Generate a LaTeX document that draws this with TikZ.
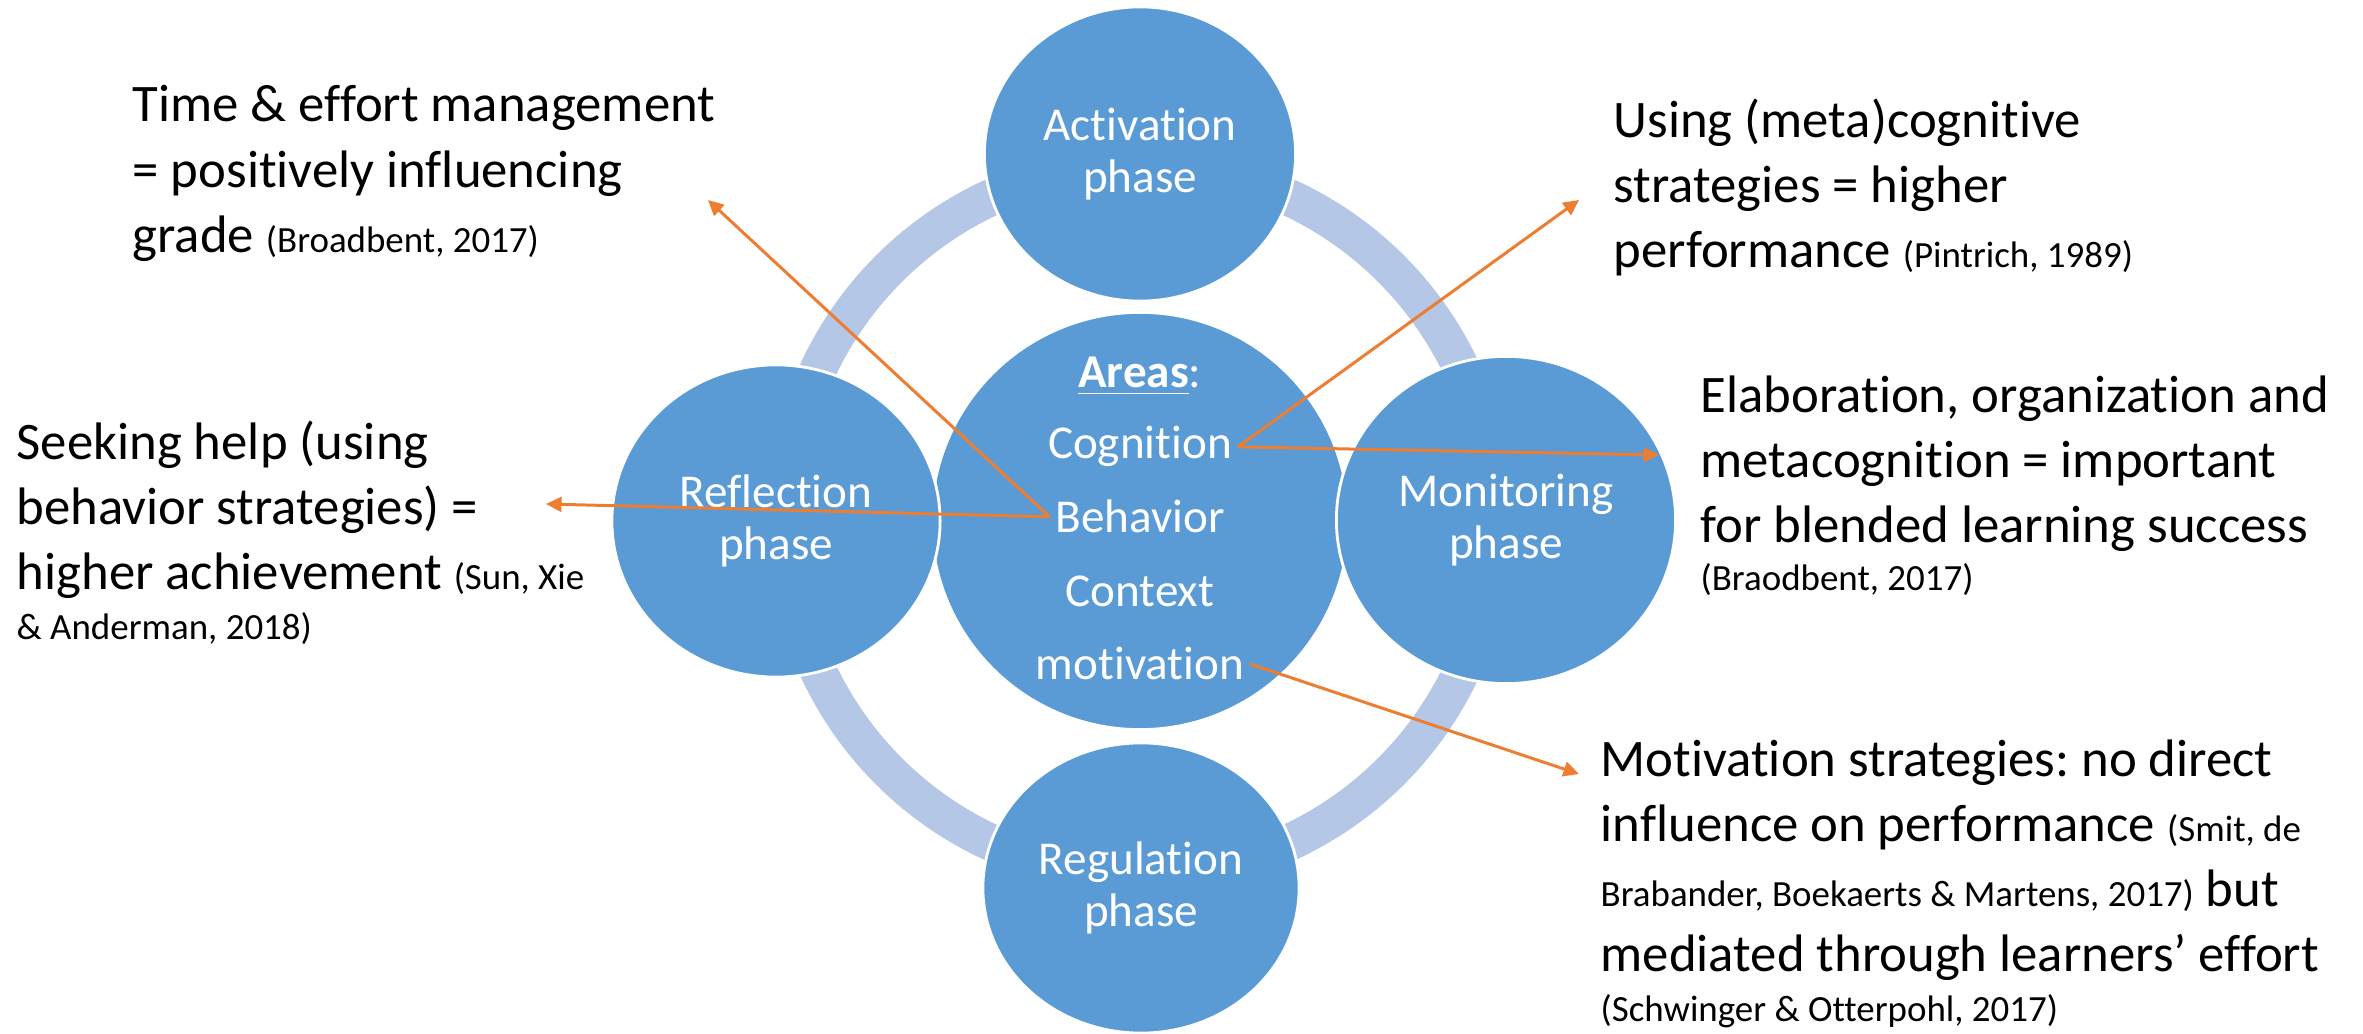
\documentclass[tikz,border=0pt]{standalone}
\usepackage{fontspec}
\setmainfont{Carlito}[Ligatures=NoCommon]
\usetikzlibrary{arrows.meta,shapes.geometric}
\frenchspacing

\definecolor{phaseblue}{RGB}{91,155,213}
\definecolor{ringblue}{RGB}{180,199,231}
\definecolor{linkorange}{RGB}{237,125,49}

\newcommand{\refcite}[1]{{\fontsize{10.5}{12.6}\selectfont #1}}

\begin{document}
\begin{tikzpicture}[
    x=0.01cm, y=-0.01cm,
    phase/.style={ellipse, fill=phaseblue, draw=white, line width=0.8pt, inner sep=0pt,
        text=white, align=center, font=\fontsize{13.4}{14.7}\selectfont},
    areatext/.style={text=white, inner sep=1.5pt, anchor=base, font=\fontsize{13.4}{16}\selectfont},
    finding/.style={anchor=north west, align=left, inner sep=0pt, font=\fontsize{15}{18.5}\selectfont},
    link/.style={-{Triangle[length=4.4pt,width=4.2pt]}, linkorange, line width=0.85pt}
]
\useasboundingbox (0,0) rectangle (2363,1034);

% cycle ring behind the phases
\draw[ringblue, line width=0.37cm] (1140,520) circle[radius=3.55cm];

% middle circle with the areas
\node[circle, fill=phaseblue, draw=white, line width=0.8pt, minimum size=4.17cm] (areas) at (1140,521) {};
\node[areatext] (hdr) at (1140,388) {\underline{\textbf{Areas}}:};
\node[areatext] (cog) at (1140,459) {Cognition};
\node[areatext] (beh) at (1140,533) {Behavior};
\node[areatext] (ctx) at (1140,607) {Context};
\node[areatext] (mot) at (1140,680) {motivation};

% the four phases
\node[phase, minimum width=3.11cm, minimum height=2.94cm] (act) at (1140,154) {Activation\\phase};
\node[phase, minimum width=3.28cm, minimum height=3.12cm] (refl) at (776,521) {Reflection\\phase};
\node[phase, minimum width=3.39cm, minimum height=3.27cm] (mon) at (1506,520) {Monitoring\\phase};
\node[phase, minimum width=3.16cm, minimum height=2.90cm] (reg) at (1141,888) {Regulation\\phase};

% findings
\node[finding] (time) at (132,85) {Time \& effort management\\
= positively influencing\\
grade \refcite{(Broadbent, 2017)}};
\node[finding] (help) at (16,420) {Seeking help (using\\
behavior strategies) =\\
higher achievement \refcite{(Sun, Xie}\\[-4.3pt]
\refcite{\& Anderman, 2018)}};
\node[finding] (meta) at (1613,98) {Using (meta)cognitive\\
strategies = higher\\
performance \refcite{(Pintrich, 1989)}};
\node[finding] (elab) at (1700,375) {Elaboration, organization and\\
metacognition = important\\
for blended learning success\\[-4.8pt]
\refcite{(Braodbent, 2017)}};
\node[finding] (motiv) at (1600,739) {Motivation strategies: no direct\\
influence on performance \refcite{(Smit, de}\\
\refcite{Brabander, Boekaerts \& Martens, 2017)} but\\
mediated through learners’ effort\\[-4.3pt]
\refcite{(Schwinger \& Otterpohl, 2017)}};

% arrow ends
\coordinate (t1) at (708,200);
\coordinate (t2) at (546,504);
\coordinate (t3) at (1579,200);
\coordinate (t4) at (1659,455);
\coordinate (t5) at (1579,774);

\draw[link] (beh.west) -- (t1);
\draw[link] (beh.west) -- (t2);
\draw[link] (cog.east) -- (t3);
\draw[link] (cog.east) -- (t4);
\draw[link] (mot.east) -- (t5);
\end{tikzpicture}
\end{document}
